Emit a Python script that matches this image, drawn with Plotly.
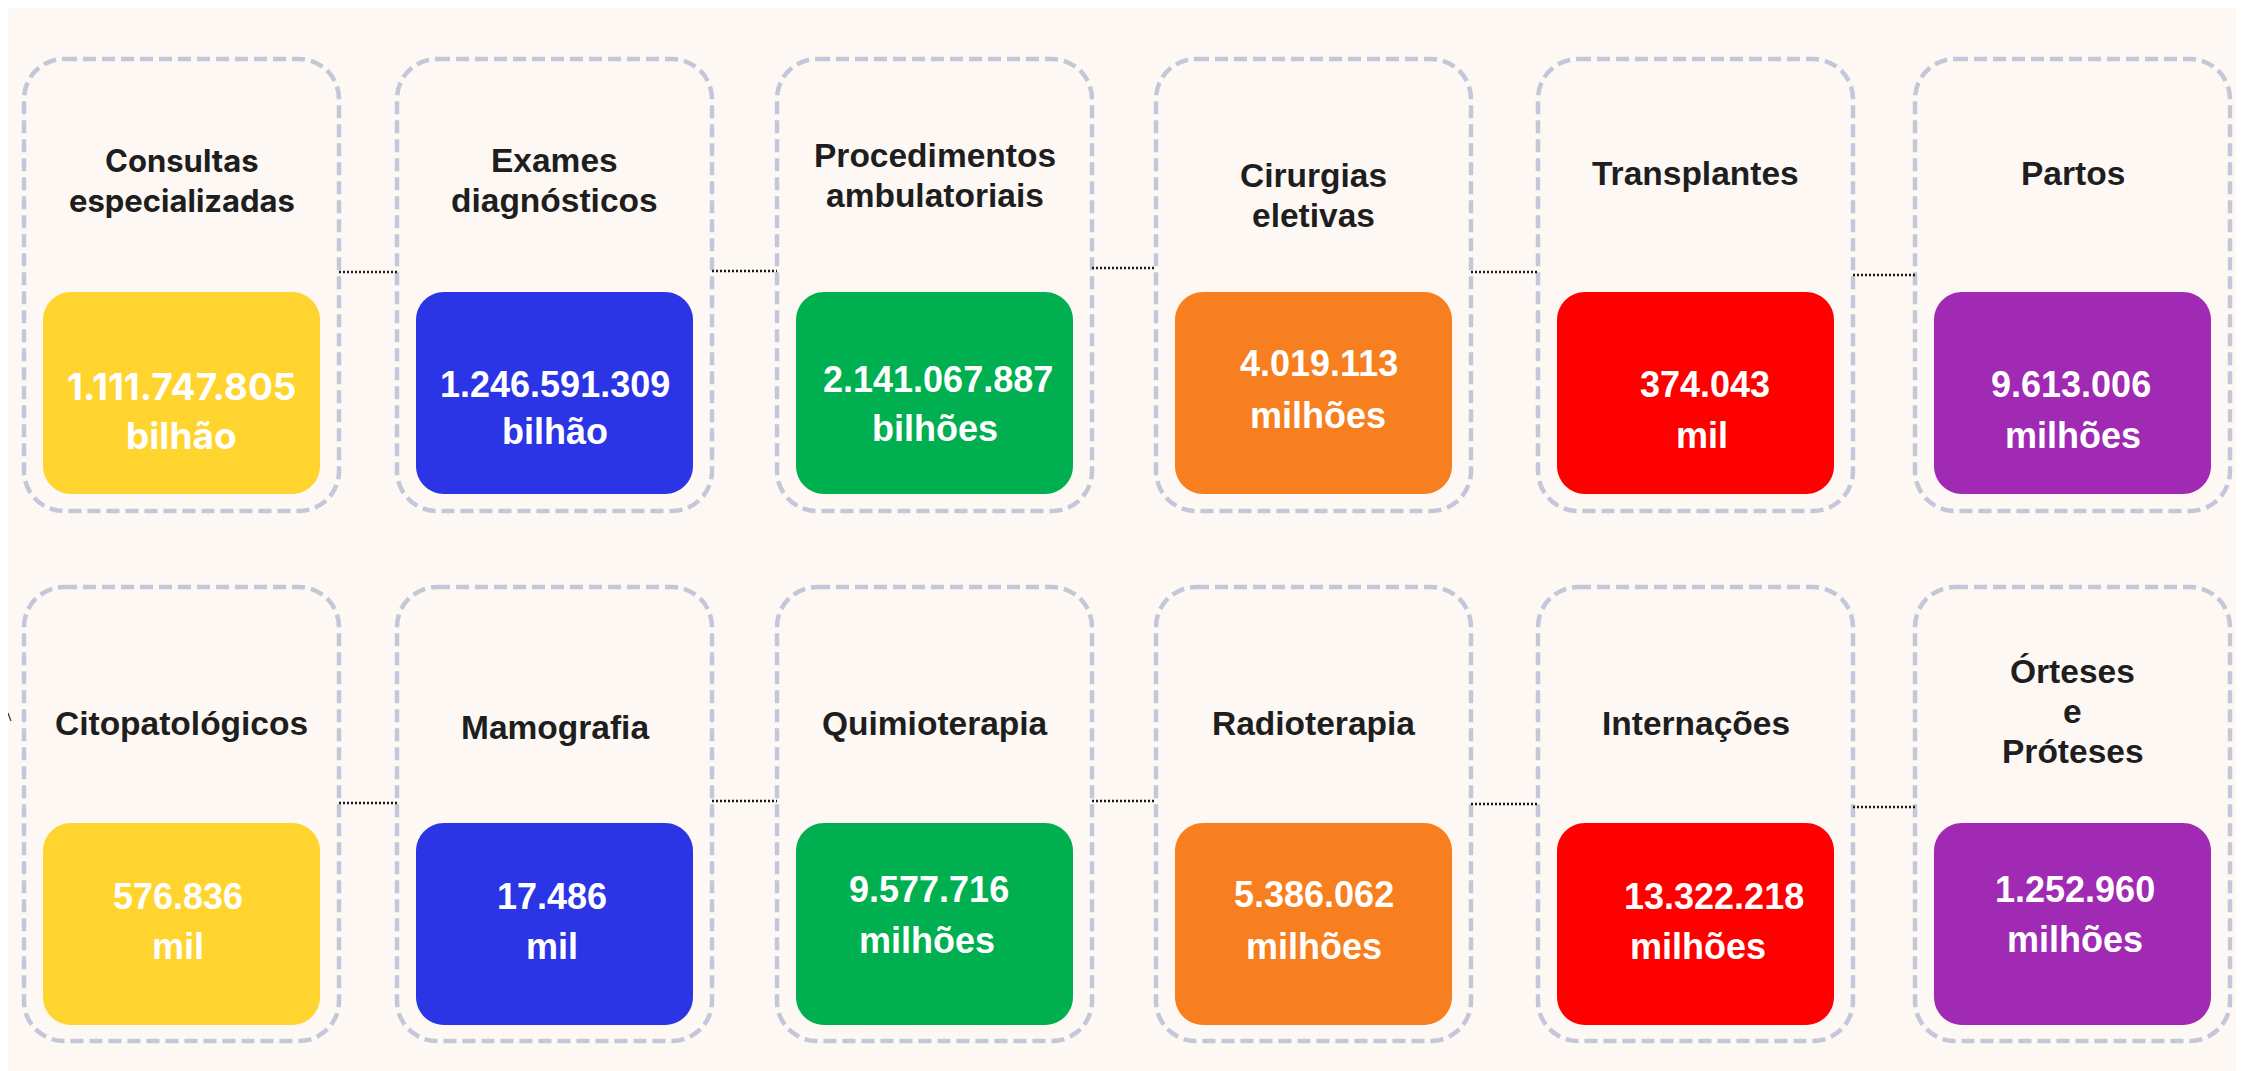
import plotly.graph_objects as go

# ---------------- data ----------------
titles_row1 = [["Consultas", "especializadas"], ["Exames", "diagnósticos"],
               ["Procedimentos", "ambulatoriais"], ["Cirurgias", "eletivas"],
               ["Transplantes"], ["Partos"]]
values_row1 = ["1.111.747.805", "1.246.591.309", "2.141.067.887", "4.019.113", "374.043", "9.613.006"]
units_row1 = ["bilhão", "bilhão", "bilhões", "milhões", "mil", "milhões"]

titles_row2 = [["Citopatológicos"], ["Mamografia"], ["Quimioterapia"], ["Radioterapia"],
               ["Internações"], ["Órteses", "e", "Próteses"]]
values_row2 = ["576.836", "17.486", "9.577.716", "5.386.062", "13.322.218", "1.252.960"]
units_row2 = ["mil", "mil", "milhões", "milhões", "milhões", "milhões"]

colors = ["#FFD42E", "#2B35E6", "#00B050", "#F77F1F", "#FF0000", "#A02AB4"]

# ---------------- layout constants ----------------
W, H = 2244, 1071
OFF = 8  # browser body margin; axes are shifted so data coords == page pixels
box_x = [24, 397, 777, 1156, 1538, 1915]
box_w = 315
rows = [
    dict(top=59, bot=511, itop=292, ibot=494,
         title_y=[180, 180, 175, 195, 173, 173],
         val_y=[386, 384, 379, 363, 384, 384],
         unit_y=[435, 431, 428, 415, 435, 435],
         val_dx=[0, 0, 3, 5, 9, -2],
         unit_dx=[0, 0, 0, 4, 6, 0],
         conn_y=[272, 271, 268, 272, 275]),
    dict(top=587, bot=1041, itop=823, ibot=1025,
         title_y=[723, 727, 723, 723, 723, 711],
         val_y=[896, 896, 889, 894, 896, 889],
         unit_y=[946, 946, 940, 946, 946, 939],
         val_dx=[-4, -3, -6, 0, 18, 2],
         unit_dx=[-4, -3, -8, 0, 2, 2],
         conn_y=[803, 801, 801, 804, 807]),
]
inset = 19
title_gap = 40
K = 0.5523


def rrect(x0, y0, x1, y1, r):
    k = r * (1 - K)
    return (f"M {x0+r},{y0} L {x1-r},{y0} "
            f"C {x1-k},{y0} {x1},{y0+k} {x1},{y0+r} "
            f"L {x1},{y1-r} C {x1},{y1-k} {x1-k},{y1} {x1-r},{y1} "
            f"L {x0+r},{y1} C {x0+k},{y1} {x0},{y1-k} {x0},{y1-r} "
            f"L {x0},{y0+r} C {x0},{y0+k} {x0+k},{y0} {x0+r},{y0} Z")


fig = go.Figure()
shapes = []
annotations = []

# background
shapes.append(dict(type="rect", xref="x", yref="y", x0=OFF, y0=OFF, x1=W, y1=H,
                   fillcolor="#FDF8F4", line=dict(width=0), layer="below"))

all_titles = [titles_row1, titles_row2]
all_values = [values_row1, values_row2]
all_units = [units_row1, units_row2]

for ri, row in enumerate(rows):
    for i in range(6):
        x0 = box_x[i]
        x1 = x0 + box_w
        cx = (x0 + x1) / 2
        # outer dashed box
        shapes.append(dict(type="path", xref="x", yref="y",
                           path=rrect(x0, row["top"], x1, row["bot"], 40),
                           line=dict(color="#C2C8D8", width=4.5, dash="13px,6px"),
                           fillcolor="rgba(0,0,0,0)"))
        # inner colored box
        shapes.append(dict(type="path", xref="x", yref="y",
                           path=rrect(x0 + inset, row["itop"], x1 - inset, row["ibot"], 28),
                           line=dict(width=0), fillcolor=colors[i]))
        # title lines
        lines = all_titles[ri][i]
        n = len(lines)
        special = (ri == 0 and i == 0)
        for li, t in enumerate(lines):
            ty = row["title_y"][i] + (li - (n - 1) / 2) * title_gap
            annotations.append(dict(
                x=cx, y=ty, xref="x", yref="y", text=f"<b>{t}</b>", showarrow=False,
                xanchor="center", yanchor="middle",
                font=dict(family="Inter" if special else "Liberation Sans, Arial",
                          size=31 if special else 33.5, color="#1E1E1E")))
        # value & unit
        vfam = "Inter" if special else "Liberation Sans, Arial"
        vsize = 37 if special else 36
        annotations.append(dict(
            x=cx + row["val_dx"][i], y=row["val_y"][i], xref="x", yref="y",
            text=f"<b>{all_values[ri][i]}</b>", showarrow=False,
            xanchor="center", yanchor="middle",
            font=dict(family=vfam, size=vsize, color="#FFFFFF")))
        annotations.append(dict(
            x=cx + row["unit_dx"][i], y=row["unit_y"][i], xref="x", yref="y",
            text=f"<b>{all_units[ri][i]}</b>", showarrow=False,
            xanchor="center", yanchor="middle",
            font=dict(family=vfam, size=vsize, color="#FFFFFF")))
    # dotted connectors
    for i in range(5):
        shapes.append(dict(type="line", xref="x", yref="y",
                           x0=box_x[i] + box_w, x1=box_x[i + 1],
                           y0=row["conn_y"][i], y1=row["conn_y"][i],
                           line=dict(color="#1A1A1A", width=2.5, dash="2px,2px")))

# small stray mark near left edge
shapes.append(dict(type="line", xref="x", yref="y", x0=OFF, y0=713, x1=OFF + 3, y1=721,
                   line=dict(color="#333333", width=1.2)))

fig.update_layout(
    width=W - OFF, height=H - OFF,
    margin=dict(l=0, r=0, t=0, b=0),
    paper_bgcolor="#FDF8F4", plot_bgcolor="rgba(0,0,0,0)",
    xaxis=dict(range=[OFF, W], visible=False, fixedrange=True),
    yaxis=dict(range=[H, OFF], visible=False, fixedrange=True),
    shapes=shapes, annotations=annotations,
    showlegend=False,
)

fig.write_html("out.html", config={"displayModeBar": False})
